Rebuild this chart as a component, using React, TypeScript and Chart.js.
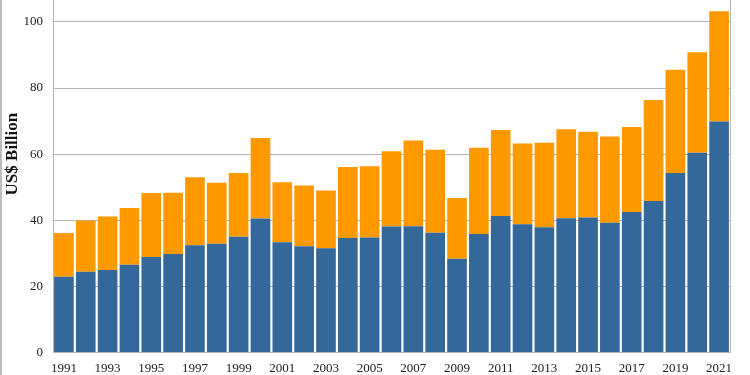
import React, { useEffect, useRef } from "react";
import { Chart, registerables } from "chart.js";

Chart.register(...registerables);

const years: string[] = [
  "1991", "1992", "1993", "1994", "1995", "1996", "1997", "1998", "1999", "2000",
  "2001", "2002", "2003", "2004", "2005", "2006", "2007", "2008", "2009", "2010",
  "2011", "2012", "2013", "2014", "2015", "2016", "2017", "2018", "2019", "2020", "2021",
];

// lower (blue) segment
const blueValues: number[] = [
  22.9, 24.4, 24.9, 26.5, 28.9, 29.8, 32.4, 32.9, 35.0, 40.5,
  33.3, 32.1, 31.5, 34.6, 34.8, 38.1, 38.2, 36.2, 28.3, 35.8,
  41.3, 38.8, 37.9, 40.6, 40.8, 39.2, 42.5, 45.8, 54.3, 60.4, 69.9,
];

// upper (orange) segment
const orangeValues: number[] = [
  13.2, 15.5, 16.2, 17.2, 19.3, 18.5, 20.6, 18.4, 19.3, 24.4,
  18.2, 18.4, 17.5, 21.5, 21.5, 22.8, 25.9, 25.1, 18.4, 26.1,
  26.0, 24.4, 25.5, 26.9, 26.0, 26.1, 25.7, 30.6, 31.2, 30.4, 33.3,
];

const yTicks: number[] = [0, 20, 40, 60, 80, 100, 120];

const GRID = "#b5b5b5";
const FONT = "'Liberation Serif', 'DejaVu Serif', serif";

const rightBorder = {
  id: "rightBorder",
  afterDatasetsDraw(chart: any) {
    const { ctx, chartArea } = chart;
    ctx.save();
    ctx.strokeStyle = GRID;
    ctx.lineWidth = 1;
    ctx.beginPath();
    ctx.moveTo(Math.round(chartArea.right) + 0.5, chartArea.top);
    ctx.lineTo(Math.round(chartArea.right) + 0.5, chartArea.bottom);
    ctx.stroke();
    ctx.restore();
  },
};

export default function App() {
  const ref = useRef<HTMLCanvasElement | null>(null);

  useEffect(() => {
    document.body.style.margin = "0";
    const canvas = ref.current;
    if (!canvas) return;
    const chart = new Chart(canvas, {
      type: "bar",
      data: {
        labels: years,
        datasets: [
          {
            label: "Lower",
            data: blueValues,
            backgroundColor: "#34679A",
            barPercentage: 0.9,
            categoryPercentage: 1,
          },
          {
            label: "Upper",
            data: orangeValues,
            backgroundColor: "#FF9900",
            barPercentage: 0.9,
            categoryPercentage: 1,
          },
        ],
      },
      options: {
        responsive: false,
        animation: false,
        layout: { padding: { left: 0, right: 20, top: 2, bottom: 0 } },
        plugins: {
          legend: { display: false },
          tooltip: { enabled: false },
        },
        scales: {
          x: {
            stacked: true,
            grid: { display: false, drawTicks: false },
            border: { display: true, color: GRID },
            ticks: {
              autoSkip: false,
              maxRotation: 0,
              padding: 8,
              color: "#222",
              font: { family: FONT, size: 13 },
              callback: (_v: any, i: number) => (i % 2 === 0 ? years[i] : ""),
            },
          },
          y: {
            stacked: true,
            min: 0,
            max: 120,
            afterFit: (scale: any) => {
              scale.width = 53;
            },
            afterBuildTicks: (scale: any) => {
              scale.ticks = yTicks.map((v) => ({ value: v }));
            },
            grid: { color: GRID, drawTicks: false },
            border: { display: true, color: GRID },
            ticks: {
              padding: 10,
              color: "#222",
              font: { family: FONT, size: 13 },
            },
            title: {
              display: true,
              text: "US$ Billion",
              color: "#111",
              font: { family: FONT, size: 17, weight: "bold" },
              padding: { top: 2, bottom: 2 },
            },
          },
        },
      },
      plugins: [rightBorder],
    });
    return () => chart.destroy();
  }, []);

  return (
    <div style={{ position: "relative", width: 750, height: 375, overflow: "hidden", background: "#fff" }}>
      <div style={{ position: "absolute", left: 0, top: 0, width: 2, height: 375, background: "#bdbdbd" }} />
      <canvas
        ref={ref}
        width={750}
        height={446}
        style={{ position: "absolute", left: 0, top: -62, width: 750, height: 446 }}
      />
    </div>
  );
}
